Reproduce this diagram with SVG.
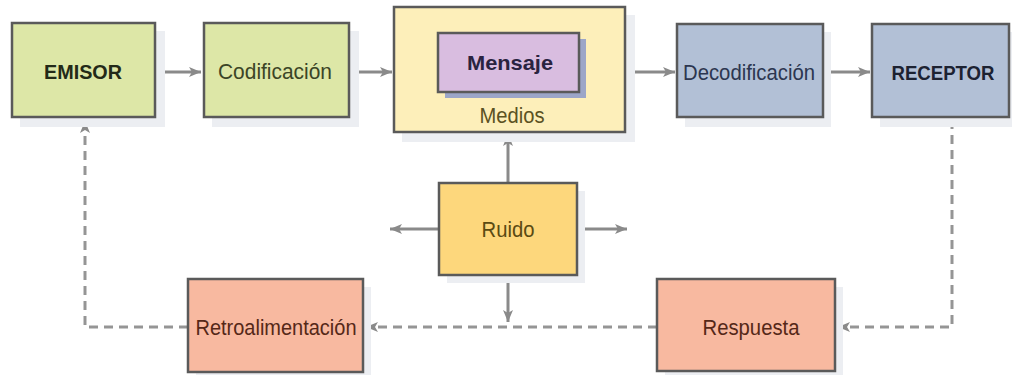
<svg xmlns="http://www.w3.org/2000/svg" width="1015" height="378" viewBox="0 0 1015 378">
<style>
.box{stroke:#5a5a5a;stroke-width:2.5}
.sh{fill:#eceef2}
.t{font-family:"Liberation Sans",Arial,sans-serif;font-size:22px;text-anchor:middle}
.b{font-weight:bold;font-size:21px}
.ar{stroke:#8a8a8a;stroke-width:3;fill:none}
.da{stroke:#959595;stroke-width:3;fill:none;stroke-dasharray:9 6}
</style>
<defs>
<marker id="ah" markerUnits="userSpaceOnUse" markerWidth="14" markerHeight="12" refX="12" refY="6" orient="auto">
<path d="M0,1 L12,6 L0,11 L3,6 Z" fill="#8a8a8a"/>
</marker>
</defs>
<rect width="1015" height="378" fill="#ffffff"/>
<g id="connectors">
<line class="ar" x1="156" y1="72" x2="201" y2="72" marker-end="url(#ah)"/>
<line class="ar" x1="350" y1="72" x2="392" y2="72" marker-end="url(#ah)"/>
<line class="ar" x1="626" y1="72" x2="675" y2="72" marker-end="url(#ah)"/>
<line class="ar" x1="824" y1="72" x2="870" y2="72" marker-end="url(#ah)"/>
<line class="ar" x1="508" y1="183" x2="508" y2="134" marker-end="url(#ah)"/>
<line class="ar" x1="439" y1="229" x2="390" y2="229" marker-end="url(#ah)"/>
<line class="ar" x1="577" y1="229" x2="627" y2="229" marker-end="url(#ah)"/>
<line class="ar" x1="508" y1="275" x2="508" y2="322" marker-end="url(#ah)"/>
<path class="da" d="M952,120 V327 H838" marker-end="url(#ah)"/>
<path class="da" d="M657,327 H366" marker-end="url(#ah)"/>
<path class="da" d="M188,327 H85 V121" marker-end="url(#ah)"/>
</g>
<g id="emisor">
<rect class="sh" x="20" y="31" width="145" height="96"/>
<rect class="box" x="12" y="23" width="143" height="94" fill="#dde7a7"/>
<text class="t b" x="83" y="79" fill="#232a18" textLength="78" lengthAdjust="spacingAndGlyphs">EMISOR</text>
</g>
<g id="codificacion">
<rect class="sh" x="212" y="31" width="147" height="96"/>
<rect class="box" x="204" y="23" width="145" height="94" fill="#dde7a7"/>
<text class="t" x="275" y="79" fill="#3b4526" textLength="114" lengthAdjust="spacingAndGlyphs">Codificación</text>
</g>
<g id="medios">
<rect class="sh" x="402" y="15" width="233" height="127"/>
<rect class="box" x="394" y="7" width="231" height="125" fill="#fdefba"/>
<text class="t" x="512" y="123" fill="#5b5222" textLength="65" lengthAdjust="spacingAndGlyphs">Medios</text>
</g>
<g id="mensaje">
<rect x="445" y="39" width="141" height="59" fill="#9ca6c8"/>
<rect class="box" x="438" y="33" width="141" height="59" fill="#d9bde0"/>
<text class="t b" x="510" y="70" fill="#2a2340" textLength="86" lengthAdjust="spacingAndGlyphs">Mensaje</text>
</g>
<g id="decodificacion">
<rect class="sh" x="685" y="32" width="146" height="95"/>
<rect class="box" x="677" y="24" width="146" height="93" fill="#b2c0d6"/>
<text class="t" x="749" y="80" fill="#2c3650" textLength="132" lengthAdjust="spacingAndGlyphs">Decodificación</text>
</g>
<g id="receptor">
<rect class="sh" x="880" y="32" width="132" height="95"/>
<rect class="box" x="872" y="24" width="137" height="93" fill="#b2c0d6"/>
<text class="t b" x="943" y="80" fill="#1c2232" textLength="103" lengthAdjust="spacingAndGlyphs">RECEPTOR</text>
</g>
<g id="ruido">
<rect class="sh" x="447" y="191" width="138" height="92"/>
<rect class="box" x="439" y="183" width="138" height="92" fill="#fdd77c"/>
<text class="t" x="508" y="237" fill="#5a4a12" textLength="53" lengthAdjust="spacingAndGlyphs">Ruido</text>
</g>
<g id="retroalimentacion">
<rect class="sh" x="196" y="287" width="175" height="88"/>
<rect class="box" x="188" y="279" width="175" height="93" fill="#f8b9a0"/>
<text class="t" x="276" y="335" fill="#552818" textLength="161" lengthAdjust="spacingAndGlyphs">Retroalimentación</text>
</g>
<g id="respuesta">
<rect class="sh" x="665" y="287" width="178" height="88"/>
<rect class="box" x="657" y="279" width="178" height="92" fill="#f8b9a0"/>
<text class="t" x="751" y="335" fill="#552818" textLength="97" lengthAdjust="spacingAndGlyphs">Respuesta</text>
</g>
</svg>
